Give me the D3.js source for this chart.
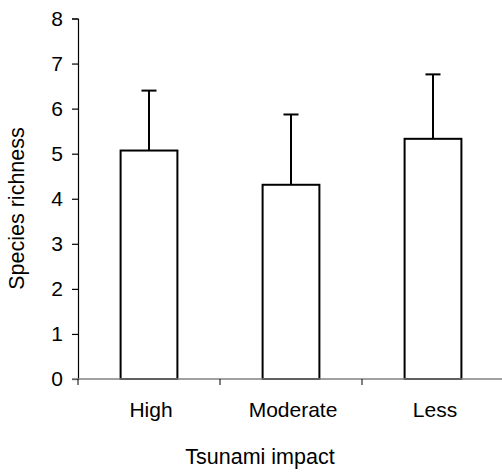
<!DOCTYPE html>
<html>
<head>
<meta charset="utf-8">
<script src="https://cdn.jsdelivr.net/npm/d3@7"></script>
<style>
  body { margin: 0; background: #fff; }
  text { font-family: "Liberation Sans", Arial, sans-serif; }
</style>
</head>
<body>
<div id="chart-container"></div>
<script>
// values
var categories = ["High", "Moderate", "Less"];
var means = [5.07, 4.31, 5.33];
var errors = [1.33, 1.56, 1.43];
var y_ticks = [0, 1, 2, 3, 4, 5, 6, 7, 8];
var x_title = "Tsunami impact";
var y_title = "Species richness";

var svg_width = 502;
var svg_height = 474;
var margin = {top: 18.5, right: -2, bottom: 95, left: 78};
var plot_w = svg_width - margin.left - margin.right;
var plot_h = svg_height - margin.top - margin.bottom;

var data = categories.map(function(c, i) {
  return {cat: c, mean: means[i], err: errors[i]};
});

var svg = d3.select("#chart-container")
  .append("svg")
  .attr("width", svg_width)
  .attr("height", svg_height);

var g = svg.append("g")
  .attr("transform", "translate(" + margin.left + "," + margin.top + ")");

var x = d3.scaleBand()
  .domain(categories)
  .range([0, plot_w])
  .paddingInner(0.6)
  .paddingOuter(0.3);

var y = d3.scaleLinear()
  .domain([0, 8])
  .range([plot_h, 0]);

// bars
g.selectAll(".bar")
  .data(data)
  .enter().append("rect")
  .attr("class", "bar")
  .attr("x", function(d) { return x(d.cat); })
  .attr("y", function(d) { return y(d.mean); })
  .attr("width", x.bandwidth())
  .attr("height", function(d) { return y(0) - y(d.mean); })
  .attr("fill", "#fff")
  .attr("stroke", "#000")
  .attr("stroke-width", 2);

// error bars (upper only)
var cap = 7.5;
var eb = g.selectAll(".err")
  .data(data)
  .enter().append("g")
  .attr("class", "err")
  .attr("transform", function(d) { return "translate(" + (x(d.cat) + x.bandwidth() / 2) + ",0)"; });

eb.append("line")
  .attr("x1", 0).attr("x2", 0)
  .attr("y1", function(d) { return y(d.mean); })
  .attr("y2", function(d) { return y(d.mean + d.err); })
  .attr("stroke", "#000")
  .attr("stroke-width", 2);

eb.append("line")
  .attr("x1", -cap).attr("x2", cap)
  .attr("y1", function(d) { return y(d.mean + d.err); })
  .attr("y2", function(d) { return y(d.mean + d.err); })
  .attr("stroke", "#000")
  .attr("stroke-width", 2);

// y axis
var yAxis = g.append("g")
  .call(d3.axisLeft(y).tickValues(y_ticks).tickSize(6).tickPadding(9).tickFormat(d3.format("d")));
yAxis.select(".domain").attr("stroke", "#000").attr("stroke-width", 1.2);
yAxis.selectAll(".tick line").attr("stroke", "#000").attr("stroke-width", 1.2);
yAxis.selectAll(".tick text")
  .style("font-size", "21px")
  .attr("fill", "#000");

// x axis line, boundary ticks and category labels
g.append("line")
  .attr("x1", -6).attr("x2", plot_w)
  .attr("y1", y(0)).attr("y2", y(0))
  .attr("stroke", "#808080")
  .attr("stroke-width", 1.5);

var bounds = categories.map(function(c) { return x(c) + x.bandwidth() / 2 - x.step() / 2; });
g.selectAll(".xtick")
  .data(bounds)
  .enter().append("line")
  .attr("class", "xtick")
  .attr("x1", function(d) { return d; }).attr("x2", function(d) { return d; })
  .attr("y1", y(0)).attr("y2", y(0) + 6)
  .attr("stroke", "#000")
  .attr("stroke-width", 1);

g.selectAll(".xlabel")
  .data(categories)
  .enter().append("text")
  .attr("class", "xlabel")
  .attr("x", function(d) { return x(d) + x.bandwidth() / 2 + 2; })
  .attr("y", y(0) + 38)
  .attr("text-anchor", "middle")
  .style("font-size", "21px")
  .text(function(d) { return d; });

// axis titles
svg.append("text")
  .attr("x", 260)
  .attr("y", 464)
  .attr("text-anchor", "middle")
  .style("font-size", "21.5px")
  .text(x_title);

svg.append("text")
  .attr("transform", "translate(24," + 208.5 + ") rotate(-90)")
  .attr("text-anchor", "middle")
  .style("font-size", "21.5px")
  .text(y_title);
</script>
</body>
</html>
